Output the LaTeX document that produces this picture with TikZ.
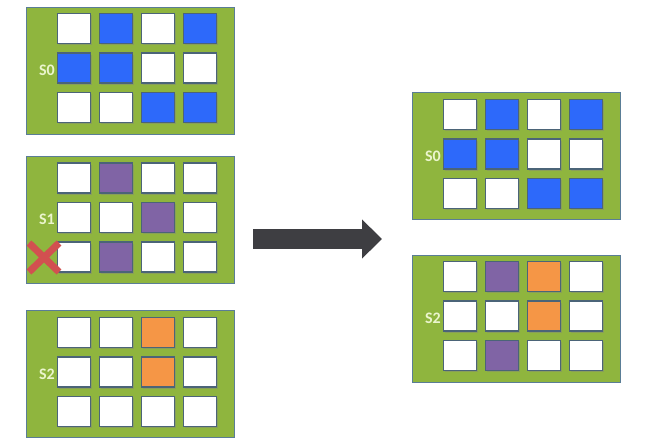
\documentclass[tikz,border=0pt]{standalone}
\usepackage{fontspec}
\setmainfont{Carlito}
\usetikzlibrary{positioning,shadows,arrows.meta}
\definecolor{panelgreen}{RGB}{143,181,62}
\definecolor{panelline}{RGB}{90,125,150}
\definecolor{cellline}{RGB}{75,100,120}
\definecolor{sqblue}{RGB}{45,105,250}
\definecolor{sqpurple}{RGB}{128,100,165}
\definecolor{sqorange}{RGB}{245,150,70}
\definecolor{tagtext}{RGB}{235,245,205}
\definecolor{crossred}{RGB}{210,80,80}
\definecolor{arrowgray}{RGB}{62,62,66}
\begin{document}
\begin{tikzpicture}[x=1pt,y=-1pt,
    panel/.style={draw=panelline,line width=0.8pt,fill=panelgreen,minimum width=208pt,minimum height=127pt,inner sep=0pt,anchor=north west},
    cell/.style={draw=cellline,line width=1.2pt,minimum width=33pt,minimum height=30pt,inner sep=0pt,
      drop shadow={shadow xshift=1pt,shadow yshift=-1.5pt,opacity=0.4}},
    tag/.style={text=tagtext,inner sep=0pt,font=\bfseries\fontsize{16}{16}\selectfont},
    bigarrow/.style={draw=arrowgray,line width=20pt,-{Triangle[length=20pt,width=38pt]}},
    cross/.style={draw=crossred,line width=7pt}]
  \useasboundingbox (0,0) rectangle (654,445);
  % left side: S0, S1, S2
  \node[panel] (pA) at (26,6.5) {};
  \foreach \f [count=\i from 0] in {white,sqblue,white,sqblue,sqblue,sqblue,white,white,white,white,sqblue,sqblue}{
    \pgfmathtruncatemacro\rw{\i/4}
    \pgfmathtruncatemacro\cl{mod(\i,4)}
    \node[cell,fill=\f] (a\i) at (74+42*\cl,28.5+39.5*\rw) {};
  }
  \node[tag,left=2pt of a4,yshift=-2pt] (tA) {S0};
  \node[panel] (pB) at (26,156) {};
  \foreach \f [count=\i from 0] in {white,sqpurple,white,white,white,white,sqpurple,white,white,sqpurple,white,white}{
    \pgfmathtruncatemacro\rw{\i/4}
    \pgfmathtruncatemacro\cl{mod(\i,4)}
    \node[cell,fill=\f] (b\i) at (74+42*\cl,178+39.5*\rw) {};
  }
  \node[tag,left=2pt of b4,yshift=-2pt] (tB) {S1};
  \draw[cross] (29,243)--(59,272) (29,272)--(59,243);
  \node[panel] (pC) at (26,310) {};
  \foreach \f [count=\i from 0] in {white,white,sqorange,white,white,white,sqorange,white,white,white,white,white}{
    \pgfmathtruncatemacro\rw{\i/4}
    \pgfmathtruncatemacro\cl{mod(\i,4)}
    \node[cell,fill=\f] (c\i) at (74+42*\cl,332.5+39.5*\rw) {};
  }
  \node[tag,left=2pt of c4,yshift=-2pt] (tC) {S2};
  % arrow
  \coordinate (arrS) at (253,239);
  \coordinate (arrE) at (382,239);
  \draw[bigarrow] (arrS)--(arrE);
  % right side: S0, S2
  \node[panel] (pD) at (412,92) {};
  \foreach \f [count=\i from 0] in {white,sqblue,white,sqblue,sqblue,sqblue,white,white,white,white,sqblue,sqblue}{
    \pgfmathtruncatemacro\rw{\i/4}
    \pgfmathtruncatemacro\cl{mod(\i,4)}
    \node[cell,fill=\f] (d\i) at (460+42*\cl,114.5+39.5*\rw) {};
  }
  \node[tag,left=2pt of d4,yshift=-2pt] (tD) {S0};
  \node[panel] (pE) at (412,255) {};
  \foreach \f [count=\i from 0] in {white,sqpurple,sqorange,white,white,white,sqorange,white,white,sqpurple,white,white}{
    \pgfmathtruncatemacro\rw{\i/4}
    \pgfmathtruncatemacro\cl{mod(\i,4)}
    \node[cell,fill=\f] (e\i) at (460+42*\cl,276.5+39.5*\rw) {};
  }
  \node[tag,left=2pt of e4,yshift=-2pt] (tE) {S2};
\end{tikzpicture}
\end{document}
